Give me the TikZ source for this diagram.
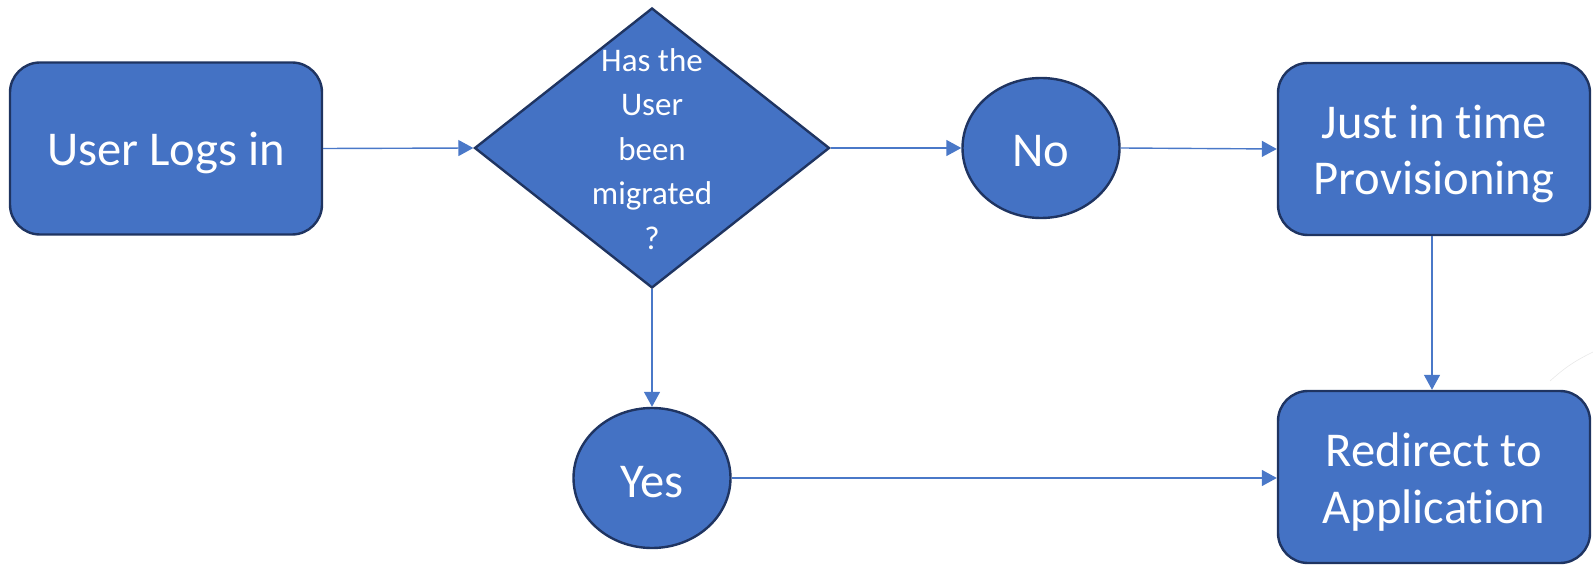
\documentclass[tikz,border=0pt]{standalone}
\usepackage{fontspec}
\setmainfont{Carlito}[Ligatures={NoCommon}]
\usetikzlibrary{shapes.geometric,arrows.meta}
\definecolor{boxfill}{HTML}{4472C4}
\definecolor{boxline}{HTML}{1F3461}
\definecolor{arrowcol}{HTML}{4A78C8}
\tikzset{
  procbox/.style={draw=boxline, line width=1.2pt, fill=boxfill, rounded corners=15pt,
    minimum width=156pt, minimum height=86pt, inner sep=0pt},
  boxtext/.style={text=white, font=\fontsize{24.3}{28.3}\selectfont, align=center, inner sep=0pt},
  decision/.style={draw=boxline, line width=1.2pt, fill=boxfill, diamond,
    minimum width=177.5pt, minimum height=140pt, inner sep=0pt},
  dectext/.style={text=white, font=\fontsize{16.5}{22.3}\selectfont, align=center, inner sep=0pt},
  answer/.style={draw=boxline, line width=1.2pt, fill=boxfill, ellipse,
    minimum width=78.5pt, minimum height=70pt, inner sep=0pt},
  flow/.style={draw=arrowcol, line width=0.7pt, -{Triangle[length=7.5pt,width=8pt]}}
}
\begin{document}
\begin{tikzpicture}[x=0.5pt,y=-0.5pt]
\useasboundingbox (0,0) rectangle (1593,571);
\node[procbox] (login) at (166,148.5) {};
\node[boxtext] (logint) at ([yshift=-2.2pt]login.center) {User Logs in};
\node[decision] (dec) at (652,148) {};
\node[dectext] (dectxt) at (652,149) {Has the\\User\\been\\migrated\\?};
\node[answer] (no) at (1041,148) {};
\node[boxtext] (not) at ([yshift=-1.5pt]no.center) {No};
\node[answer] (yes) at (652,478) {};
\node[boxtext] (yest) at ([yshift=-2pt]yes.center) {Yes};
\node[procbox] (jit) at (1434,149) {};
\node[boxtext] (jitt) at ([yshift=-2.5pt]jit.center) {Just in time\\Provisioning};
\node[procbox] (redir) at (1434,477) {};
\node[boxtext] (redirt) at ([yshift=-2.5pt]redir.center) {Redirect to\\Application};
\coordinate (fa) at (1550,381);
\coordinate (fb) at (1593,352);
\draw[gray!18, line width=0.3pt] (fa) to[bend left=8] (fb);
\draw[flow] (login.east) -- (dec.west);
\draw[flow] (dec.east) -- (no.west);
\draw[flow] (no.east) -- (jit.west);
\draw[flow] (dec.south) -- (yes.north);
\draw[flow] ([xshift=-1pt]jit.south) -- ([xshift=-1pt]redir.north);
\draw[flow] (yes.east) -- (yes.east -| redir.west);
\end{tikzpicture}
\end{document}
